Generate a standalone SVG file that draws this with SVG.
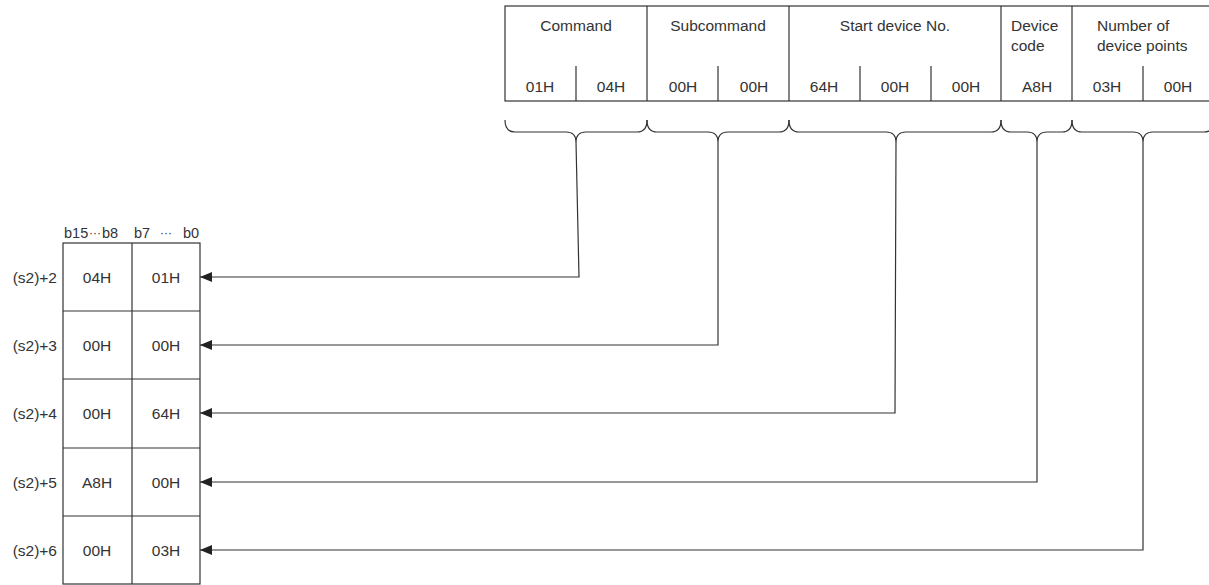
<svg xmlns="http://www.w3.org/2000/svg" width="1209" height="585" viewBox="0 0 1209 585">
<style>
  text { font-family: "Liberation Sans", Arial, sans-serif; font-size: 15.5px; fill: #333; }
  .c { text-anchor: middle; }
  .r { text-anchor: end; }
  .bits { font-size: 14.5px; }
  .dots { font-size: 12px; }
  .box { fill: #fff; stroke: #333; stroke-width: 1.2; }
  .ln { fill: none; stroke: #333; stroke-width: 1.2; }
  .brace { fill: none; stroke: #333; stroke-width: 1.2; }
</style>
<defs>
  <marker id="ah" markerWidth="12" markerHeight="10" refX="12" refY="5" orient="auto" markerUnits="userSpaceOnUse">
    <path d="M0,0 L12,5 L0,10 Z" fill="#222"/>
  </marker>
</defs>

<g id="request-table">
  <rect class="box" x="505" y="6" width="709" height="95"/>
  <line class="ln" x1="647" y1="6" x2="647" y2="101"/>
  <line class="ln" x1="789" y1="6" x2="789" y2="101"/>
  <line class="ln" x1="1001" y1="6" x2="1001" y2="101"/>
  <line class="ln" x1="1072" y1="6" x2="1072" y2="101"/>
  <line class="ln" x1="576" y1="66" x2="576" y2="101"/>
  <line class="ln" x1="718" y1="66" x2="718" y2="101"/>
  <line class="ln" x1="860" y1="66" x2="860" y2="101"/>
  <line class="ln" x1="931" y1="66" x2="931" y2="101"/>
  <line class="ln" x1="1143" y1="66" x2="1143" y2="101"/>
  <text class="c" x="576" y="31">Command</text>
  <text class="c" x="718" y="31">Subcommand</text>
  <text class="c" x="895" y="31">Start device No.</text>
  <text x="1011" y="31">Device</text>
  <text x="1011" y="51">code</text>
  <text x="1097" y="31">Number of</text>
  <text x="1097" y="51">device points</text>
  <text class="c" x="540" y="92">01H</text>
  <text class="c" x="611" y="92">04H</text>
  <text class="c" x="683" y="92">00H</text>
  <text class="c" x="754" y="92">00H</text>
  <text class="c" x="824" y="92">64H</text>
  <text class="c" x="895" y="92">00H</text>
  <text class="c" x="966" y="92">00H</text>
  <text class="c" x="1037" y="92">A8H</text>
  <text class="c" x="1107" y="92">03H</text>
  <text class="c" x="1178" y="92">00H</text>
</g>

<g id="braces">
  <path class="brace" d="M505,120 Q505,132 515,132 L566,132 Q576,132 576,142 Q576,132 586,132 L637,132 Q647,132 647,120"/>
  <path class="brace" d="M647,120 Q647,132 657,132 L708,132 Q718,132 718,142 Q718,132 728,132 L779,132 Q789,132 789,120"/>
  <path class="brace" d="M789,120 Q789,132 799,132 L886,132 Q896,132 896,142 Q896,132 906,132 L991,132 Q1001,132 1001,120"/>
  <path class="brace" d="M1001,120 Q1001,132 1011,132 L1027,132 Q1037,132 1037,142 Q1037,132 1047,132 L1062,132 Q1072,132 1072,120"/>
  <path class="brace" d="M1072,120 Q1072,132 1082,132 L1133,132 Q1143,132 1143,142 Q1143,132 1153,132 L1204,132 Q1214,132 1214,120"/>
</g>

<g id="device-table">
  <text class="bits" x="64" y="238">b15</text>
  <text class="bits dots" x="89" y="237">···</text>
  <text class="bits" x="102" y="238">b8</text>
  <text class="bits" x="134" y="238">b7</text>
  <text class="bits dots" x="160" y="237">···</text>
  <text class="bits" x="183" y="238">b0</text>
  <rect class="box" x="63" y="243" width="137" height="341"/>
  <line class="ln" x1="132" y1="243" x2="132" y2="584"/>
  <line class="ln" x1="63" y1="311" x2="200" y2="311"/>
  <line class="ln" x1="63" y1="379" x2="200" y2="379"/>
  <line class="ln" x1="63" y1="448" x2="200" y2="448"/>
  <line class="ln" x1="63" y1="516" x2="200" y2="516"/>
  <text class="r" x="57" y="283">(s2)+2</text>
  <text class="r" x="57" y="351">(s2)+3</text>
  <text class="r" x="57" y="419">(s2)+4</text>
  <text class="r" x="57" y="488">(s2)+5</text>
  <text class="r" x="57" y="556">(s2)+6</text>
  <text class="c" x="97" y="283">04H</text>
  <text class="c" x="166" y="283">01H</text>
  <text class="c" x="97" y="351">00H</text>
  <text class="c" x="166" y="351">00H</text>
  <text class="c" x="97" y="419">00H</text>
  <text class="c" x="166" y="419">64H</text>
  <text class="c" x="97" y="488">A8H</text>
  <text class="c" x="166" y="488">00H</text>
  <text class="c" x="97" y="556">00H</text>
  <text class="c" x="166" y="556">03H</text>
</g>

<g id="connectors">
  <polyline class="ln" points="576,142 579,277 200,277" marker-end="url(#ah)"/>
  <polyline class="ln" points="718,142 718,345 200,345" marker-end="url(#ah)"/>
  <polyline class="ln" points="896,142 895,413 200,413" marker-end="url(#ah)"/>
  <polyline class="ln" points="1037,142 1037,482 200,482" marker-end="url(#ah)"/>
  <polyline class="ln" points="1143,142 1143,550 200,550" marker-end="url(#ah)"/>
</g>
</svg>
